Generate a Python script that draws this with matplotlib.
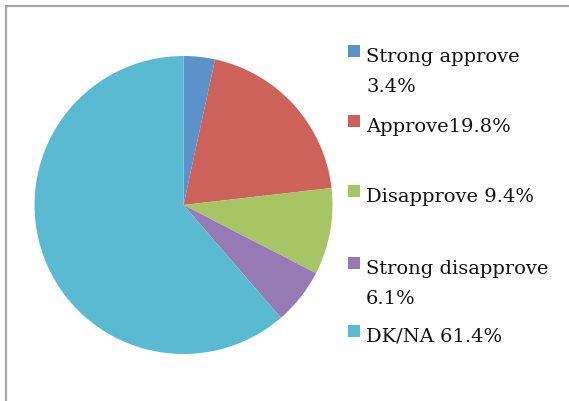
import matplotlib.pyplot as plt
from matplotlib.patches import Rectangle

# survey answers (percent)
categories = ['Strong approve', 'Approve', 'Disapprove', 'Strong disapprove', 'DK/NA']
shares = [3.4, 19.8, 9.4, 6.1, 61.4]
legend_labels = ['Strong approve\n3.4%', 'Approve19.8%', 'Disapprove 9.4%',
                 'Strong disapprove\n6.1%', 'DK/NA 61.4%']
colors = ['#5b92c9', '#cc625a', '#a8c566', '#957ab5', '#5abad1']

W, H = 569, 402
fig = plt.figure(figsize=(W / 100, H / 100), dpi=100)
fig.patch.set_facecolor('white')

# gray chart frame (runs off the right and bottom edges)
fig.patches.append(Rectangle((5.5 / W, -0.05), 1.0, (H - 6.5) / H + 0.05,
                             transform=fig.transFigure, fill=False,
                             edgecolor='#a6a6a6', lw=1.6))

cx, cy, r = 183.5, 206, 149
ax = fig.add_axes([(cx - r) / W, (H - cy - r) / H, 2 * r / W, 2 * r / H])
ax.pie(shares, colors=colors, startangle=90, counterclock=False, radius=1,
       wedgeprops=dict(linewidth=0))
ax.set_xlim(-1, 1)
ax.set_ylim(-1, 1)
ax.set_aspect('auto')
ax.axis('off')

# legend: square marker next to first line of each label
marker_y = [52, 122, 192, 264, 332]
for lab, col, y in zip(legend_labels, colors, marker_y):
    fig.patches.append(Rectangle((348 / W, (H - y - 6) / H), 12 / W, 12 / H,
                                 transform=fig.transFigure, facecolor=col,
                                 edgecolor='none'))
    for k, line in enumerate(lab.split('\n')):
        fig.text(366 / W, (H - y - 10 - 30 * k) / H, line, family='DejaVu Serif',
                 fontsize=14, va='baseline', ha='left', color='#111111')

fig.savefig('out.png', dpi=100)
